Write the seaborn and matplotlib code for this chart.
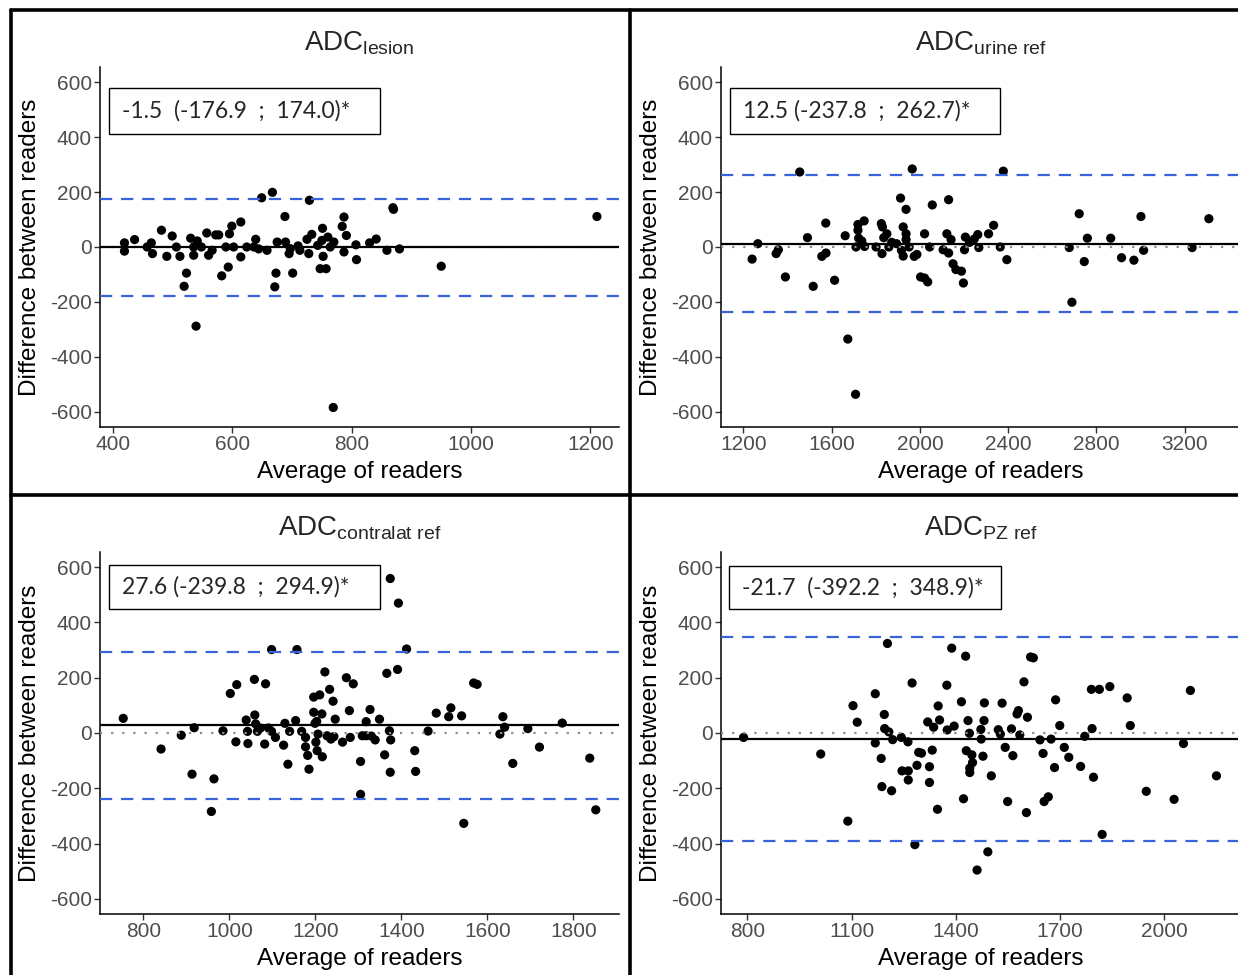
"""Bland-Altman plots of inter-reader agreement for four ADC measurements."""

import matplotlib

matplotlib.use("Agg")
import matplotlib.pyplot as plt
import seaborn as sns
from matplotlib.lines import Line2D
from matplotlib.patches import Rectangle

# ---------------------------------------------------------------- data
lesion_avg = [419, 419, 436, 457, 464, 466, 481, 490, 499, 506, 512, 519, 523, 530,
              535, 535, 539, 541, 548, 557, 560, 566, 572, 577, 582, 589, 593, 595,
              599, 602, 614, 614, 624, 636, 639, 644, 649, 658, 667, 671, 673, 675,
              688, 689, 695, 697, 701, 710, 713, 725, 728, 729, 733, 743, 747, 750,
              751, 752, 757, 760, 764, 769, 770, 784, 787, 787, 791, 807, 808, 830,
              841, 859, 869, 870, 880, 950, 1211]
lesion_diff = [15, -15, 27, 0, 15, -24, 61, -34, 40, 0, -34, -143, -95, 32,
               0, -30, -288, 22, 0, 51, -30, -12, 44, 44, -105, 0, -73, 48,
               76, 0, 91, -36, 0, 0, 28, -7, 179, -12, 199, -145, -95, 18,
               111, 18, -24, -6, -95, 4, -12, 28, -24, 170, 46, 6, -79, 24,
               68, -34, -79, 36, 0, -584, 18, 75, 109, -18, 42, 8, -46, 15,
               29, -12, 143, 137, -7, -70, 111]

urine_avg = [1239, 1265, 1348, 1358, 1390, 1455, 1490, 1516, 1555, 1573, 1574, 1613,
             1661, 1673, 1708, 1710, 1719, 1719, 1722, 1736, 1747, 1749, 1801, 1825,
             1828, 1830, 1836, 1850, 1859, 1872, 1894, 1912, 1916, 1924, 1924, 1937,
             1937, 1937, 1951, 1965, 1974, 1986, 2003, 2021, 2021, 2035, 2044, 2056,
             2105, 2122, 2130, 2130, 2141, 2150, 2163, 2188, 2197, 2202, 2206, 2225,
             2246, 2262, 2267, 2311, 2334, 2364, 2378, 2394, 2677, 2689, 2722, 2745,
             2759, 2865, 2914, 2970, 3002, 3014, 3234, 3310]
urine_diff = [-44, 12, -24, -10, -109, 273, 34, -143, -34, 87, -22, -121,
              41, -335, -536, 0, 82, 61, 32, 22, 95, 2, 0, 85,
              -24, 73, 34, 48, 0, 17, 12, 178, -12, 73, -33, 137,
              27, 48, 0, 284, -34, -27, -109, 48, -113, -127, 0, 153,
              -10, 48, 172, -22, 27, -61, -82, -88, -131, -10, 36, 17,
              29, 45, -2, 48, 79, 0, 276, -46, -2, -201, 121, -53,
              32, 32, -39, -48, 111, -12, -2, 103]

contra_avg = [753, 841, 888, 913, 918, 958, 964, 985, 1002, 1015, 1017, 1039, 1042,
              1043, 1058, 1059, 1061, 1065, 1072, 1082, 1084, 1091, 1098, 1098, 1107,
              1126, 1129, 1136, 1140, 1154, 1157, 1168, 1177, 1177, 1182, 1185, 1196,
              1196, 1199, 1201, 1203, 1204, 1206, 1210, 1215, 1216, 1222, 1227, 1233,
              1236, 1241, 1243, 1246, 1263, 1272, 1279, 1281, 1288, 1305, 1305, 1309,
              1318, 1318, 1327, 1330, 1339, 1349, 1361, 1366, 1372, 1374, 1374, 1375,
              1391, 1393, 1412, 1431, 1433, 1462, 1481, 1510, 1515, 1540, 1545, 1568,
              1576, 1629, 1636, 1640, 1659, 1694, 1721, 1774, 1838, 1852]
contra_diff = [53, -58, -8, -149, 19, -284, -166, 8, 143, -32, 175, 47, 6,
               -38, 194, 65, 33, 6, 18, -40, 178, 18, 302, 6, -16,
               -44, 35, -113, 6, 45, 302, 6, -16, -50, -81, -131, 130,
               75, 35, -33, 42, -64, -4, 138, 69, -86, 221, -10, 158,
               -22, 115, -13, 50, -33, 200, 81, -16, 178, -103, -222, -10,
               41, -10, 85, -11, -25, 50, -79, 216, 8, -142, 559, -25,
               230, 470, 304, -64, -139, 7, 72, 59, 91, 62, -327, 181,
               176, -4, 59, 21, -110, 16, -51, 36, -91, -278]

pz_avg = [789, 1011, 1089, 1104, 1116, 1168, 1168, 1185, 1187, 1194, 1195, 1203,
          1207, 1215, 1218, 1243, 1245, 1262, 1263, 1263, 1274, 1282, 1288, 1293,
          1301, 1319, 1324, 1324, 1332, 1336, 1347, 1349, 1353, 1374, 1375, 1388,
          1395, 1416, 1422, 1428, 1430, 1435, 1439, 1440, 1440, 1446, 1448, 1461,
          1472, 1473, 1478, 1481, 1482, 1492, 1502, 1522, 1528, 1533, 1542, 1549,
          1560, 1564, 1576, 1580, 1584, 1596, 1603, 1606, 1615, 1623, 1642, 1651,
          1654, 1666, 1674, 1684, 1687, 1699, 1712, 1725, 1759, 1771, 1790, 1792,
          1796, 1813, 1821, 1843, 1893, 1902, 1948, 2028, 2055, 2075, 2150]
pz_diff = [-16, -76, -319, 99, 39, 142, -36, -92, -194, 67, 16, 324,
           4, -209, -24, -16, -137, -32, -137, -170, 181, -404, -117, -70,
           -73, 40, -122, -179, -62, 21, -276, 98, 47, 173, 11, 307,
           25, 113, -238, 278, -64, 45, -1, -127, -143, -79, -107, -496,
           13, -22, -84, 45, 109, -430, -155, 12, -4, 108, -52, -248,
           15, -82, 69, 81, -7, 185, -288, 57, 275, 272, -25, -74,
           -248, -231, -22, -125, 120, 27, -52, -88, -121, -12, 158, 16,
           -160, 158, -367, 168, 127, 27, -211, -240, -38, 154, -155]

# mean difference and limits of agreement
bias = [-1.5, 12.5, 27.6, -21.7]
loa_low = [-176.9, -237.8, -239.8, -392.2]
loa_high = [174.0, 262.7, 294.9, 348.9]
labels = ["-1.5  (-176.9  ;  174.0)*", "12.5 (-237.8  ;  262.7)*",
          "27.6 (-239.8  ;  294.9)*", "-21.7  (-392.2  ;  348.9)*"]
titles = [r"ADC$_{\mathrm{lesion}}$", r"ADC$_{\mathrm{urine\ ref}}$",
          r"ADC$_{\mathrm{contralat\ ref}}$", r"ADC$_{\mathrm{PZ\ ref}}$"]
xticks = [range(400, 1201, 200), range(1200, 3201, 400),
          range(800, 1801, 200), range(800, 2001, 300)]
averages = [lesion_avg, urine_avg, contra_avg, pz_avg]
differences = [lesion_diff, urine_diff, contra_diff, pz_diff]

# ---------------------------------------------------------------- layout (pixels)
W, H = 1238, 975
# left, right, top, bottom of each plotting area
boxes = [(100, 619, 67, 427), (721, 1238, 67, 427),
         (100, 619, 552, 914), (721, 1238, 552, 914)]
xlims = [(378, 1248), (1098, 3442), (699, 1906), (724, 2212)]
# annotation rectangle: left, right, top, bottom
ann = [(109, 380, 88, 134), (730, 1000, 88, 134),
       (109, 380, 565, 609), (729, 1001, 566, 609)]

sns.set_theme(style="ticks")
plt.rcParams["font.family"] = ["Liberation Sans", "DejaVu Sans"]
plt.rcParams["mathtext.fontset"] = "custom"
plt.rcParams["mathtext.rm"] = "Liberation Sans"
plt.rcParams["mathtext.it"] = "Liberation Sans"
plt.rcParams["axes.unicode_minus"] = False

fig = plt.figure(figsize=(W / 100, H / 100), dpi=100)
fig.patch.set_facecolor("white")


def fx(px):
    return px / W


def fy(py):
    return 1 - py / H


for i in range(4):
    l, r, t, b = boxes[i]
    ax = fig.add_axes([fx(l), fy(b), fx(r) - fx(l), fy(t) - fy(b)])
    sns.scatterplot(x=averages[i], y=differences[i], ax=ax, color="black",
                    s=44, edgecolor="none", zorder=2)
    ax.axhline(0, color="#8c8c8c", lw=1.6, ls=(0, (1, 4)), zorder=3)
    ax.axhline(bias[i], color="black", lw=1.6, zorder=3)
    for lim in (loa_low[i], loa_high[i]):
        ax.axhline(lim, color="#3a62d9", lw=1.6, ls=(0, (5.5, 4)), zorder=3)

    ax.set_xlim(*xlims[i])
    ax.set_ylim(-655, 655)
    ax.set_xticks(list(xticks[i]))
    ax.set_yticks(range(-600, 601, 200))
    sns.despine(ax=ax)
    for side in ("left", "bottom"):
        ax.spines[side].set_linewidth(1.1)
        ax.spines[side].set_color("black")
    ax.tick_params(axis="both", length=4, width=1, color="#333333",
                   labelsize=15, labelcolor="#4d4d4d", pad=2)
    ax.set_xlabel("Average of readers", fontsize=17.5, color="black", va="center")
    ax.set_ylabel("Difference between readers", fontsize=17.5, color="black",
                  va="center")
    ax.yaxis.set_label_coords(fx(l - 70), fy((t + b) / 2), transform=fig.transFigure)
    ax.xaxis.set_label_coords(fx((l + r) / 2 if i % 2 == 0 else l + 260),
                              fy(b + 45), transform=fig.transFigure)
    ax.set_title(titles[i], fontsize=20, pad=12)
    if i % 2 == 1:
        ax.title.set_position((260 / (r - l), 1.0))

    al, ar, at, ab = ann[i]
    fig.patches.append(Rectangle((fx(al), fy(ab)), fx(ar) - fx(al), fy(at) - fy(ab),
                                 transform=fig.transFigure, facecolor="white",
                                 edgecolor="black", lw=1.0, zorder=5))
    fig.text(fx(al + 13), fy((at + ab) / 2), labels[i], fontsize=16.5, family="Lato",
             ha="left", va="center", zorder=6)

# panel borders
border = dict(color="black", lw=2.6, transform=fig.transFigure)
fig.add_artist(Line2D([fx(11), fx(W)], [fy(10), fy(10)], **border))
fig.add_artist(Line2D([fx(11), fx(11)], [fy(10), fy(H)], **border))
fig.add_artist(Line2D([fx(630), fx(630)], [fy(10), fy(H)], **border))
fig.add_artist(Line2D([fx(11), fx(W)], [fy(495), fy(495)], **border))

fig.savefig("out.png", dpi=100)
